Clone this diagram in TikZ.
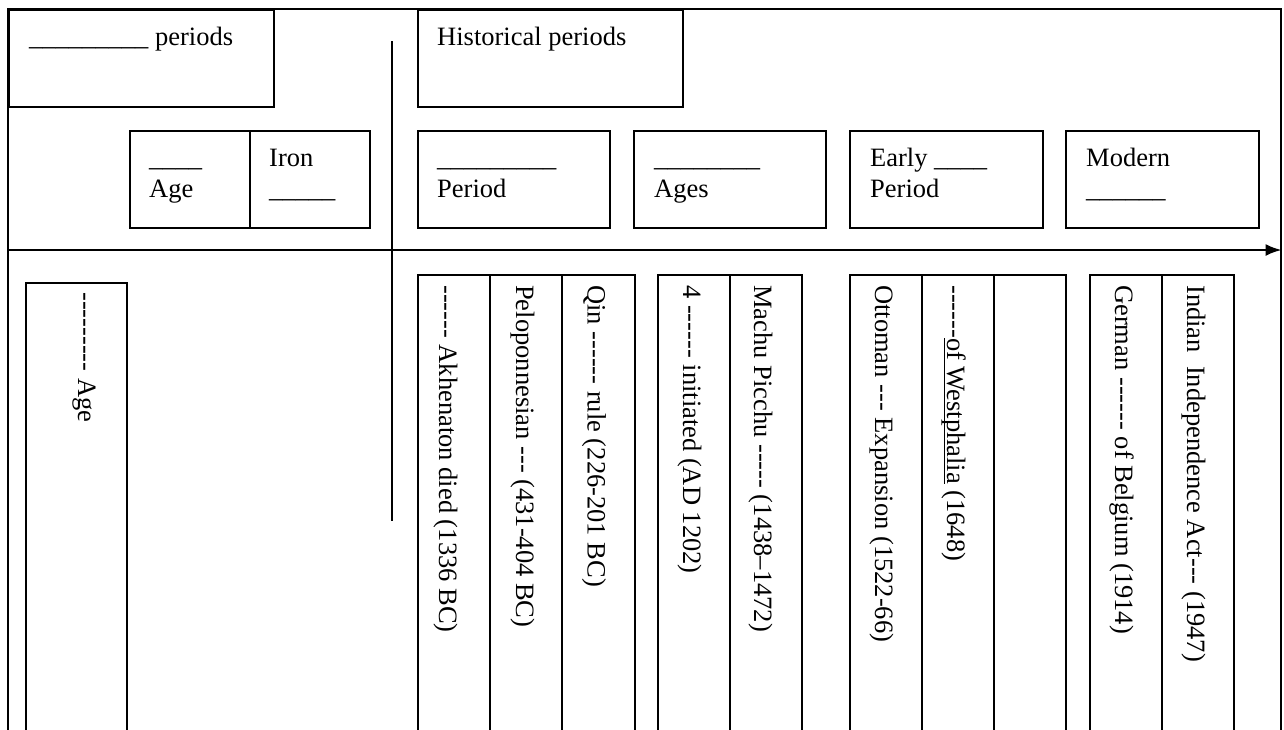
\documentclass[tikz,border=0pt]{standalone}
\usepackage{fontspec}
\setmainfont{Liberation Serif}
\usetikzlibrary{arrows.meta}
\newcommand\fs{\fontsize{26.5}{31}\selectfont}
\newcommand\hy{-\kern0pt}
\newcommand\ulw[1]{\setbox0\hbox{#1}\rlap{\rule[-3pt]{\wd0}{1.2pt}}\box0\relax}
\newcommand\two[2]{\begin{tabular}[t]{@{}l@{}}#1\\#2\end{tabular}}
\begin{document}
\begin{tikzpicture}[x=1pt,y=-1pt,
  frame/.style={line width=2pt},
  box/.style={draw, line width=1.6pt, rectangle, inner sep=0pt, anchor=north west},
  col/.style={box, minimum width=72pt, minimum height=470pt},
  lbl/.style={font=\fs, inner sep=0pt, anchor=base west},
  vlbl/.style={lbl, rotate=-90}]
\clip (0,0) rectangle (1284,729);
\fill[white] (0,0) rectangle (1284,729);
% frame
\coordinate (f1) at (8,735);
\coordinate (f2) at (8,9);
\coordinate (f3) at (1281,9);
\coordinate (f4) at (1281,735);
\draw[frame] (f1) -- (f2) -- (f3) -- (f4);
% time axis
\coordinate (aL) at (8,250);
\coordinate (aR) at (1281.5,250);
\draw[frame, -{Latex[length=16pt, width=12pt]}] (aL) -- (aR);
% divider
\coordinate (d1) at (392,41);
\coordinate (d2) at (392,521);
\draw[line width=1.6pt] (d1) -- (d2);
% header boxes
\node[box, minimum width=265pt, minimum height=97pt] (per) at (8,9) {};
\node[box, minimum width=265pt, minimum height=97pt] (hist) at (417,9) {};
\node[lbl] (tper) at ([shift={(21,36)}]per.north west) {\_\_\_\_\_\_\_\_\_ periods};
\node[lbl] (thist) at ([shift={(20,36)}]hist.north west) {Historical periods};
% period boxes
\node[box, minimum width=120pt, minimum height=97pt] (agebx) at (129,130) {};
\node[box, minimum width=120pt, minimum height=97pt] (iron) at (249,130) {};
\node[box, minimum width=192pt, minimum height=97pt] (period) at (417,130) {};
\node[box, minimum width=192pt, minimum height=97pt] (ages) at (633,130) {};
\node[box, minimum width=193pt, minimum height=97pt] (early) at (849,130) {};
\node[box, minimum width=193pt, minimum height=97pt] (modern) at (1065,130) {};
\node[lbl] (tagebx) at ([shift={(20,36)}]agebx.north west) {\two{\_\_\_\_}{Age}};
\node[lbl] (tiron) at ([shift={(20,36)}]iron.north west) {\two{Iron}{\_\_\_\_\_}};
\node[lbl] (tperiod) at ([shift={(20,36)}]period.north west) {\two{\_\_\_\_\_\_\_\_\_}{Period}};
\node[lbl] (tages) at ([shift={(21,36)}]ages.north west) {\two{\_\_\_\_\_\_\_\_}{Ages}};
\node[lbl] (tearly) at ([shift={(21,36)}]early.north west) {\two{Early \_\_\_\_}{Period}};
\node[lbl] (tmodern) at ([shift={(21,36)}]modern.north west) {\two{Modern}{\_\_\_\_\_\_}};
% event columns
\node[box, minimum width=101pt, minimum height=470pt] (agecol) at (25,282) {};
\node[col] (c1) at (417,274) {};
\node[col] (c2) at (489,274) {};
\node[col, minimum width=72.5pt] (c3) at (561.5,274) {};
\node[col] (c4) at (657,274) {};
\node[col] (c5) at (729,274) {};
\node[col] (c6) at (849,274) {};
\node[col] (c7) at (921,274) {};
\node[col] (c8) at (993,274) {};
\node[col] (c9) at (1089,274) {};
\node[col] (c10) at (1161,274) {};
\node[vlbl] (tagecol) at ([shift={(53,10)}]agecol.north west) {\hy\hy\hy\hy\hy\hy\hy\hy\hy{} Age};
\node[vlbl] (t1) at ([shift={(22,11)}]c1.north west) {\hy\hy\hy\hy\hy\hy{} Akhenaton died (1336 BC)};
\node[vlbl] (t2) at ([shift={(27,11)}]c2.north west) {Peloponnesian \hy\hy\hy{} (431-404 BC)};
\node[vlbl] (t3) at ([shift={(26,11)}]c3.north west) {Qin \hy\hy\hy\hy\hy\hy{} rule (226-201 BC)};
\node[vlbl] (t4) at ([shift={(26,11)}]c4.north west) {4 \hy\hy\hy\hy\hy\hy{} initiated (AD 1202)};
\node[vlbl] (t5) at ([shift={(25,11)}]c5.north west) {Machu Picchu \hy\hy\hy\hy\hy{} (1438–1472)};
\node[vlbl] (t6) at ([shift={(26,11)}]c6.north west) {Ottoman \hy\hy\hy{} Expansion (1522-66)};
\node[vlbl] (t7) at ([shift={(26,11)}]c7.north west) {\hy\hy\hy\hy\hy\hy\ulw{of Westphalia} (1648)};
\node[vlbl] (t9) at ([shift={(26,11)}]c9.north west) {German \hy\hy\hy\hy\hy\hy{} of Belgium (1914)};
\node[vlbl] (t10) at ([shift={(26,11)}]c10.north west) {Indian\ \ Independence Act\hy\hy\hy{} (1947)};
\end{tikzpicture}
\end{document}
